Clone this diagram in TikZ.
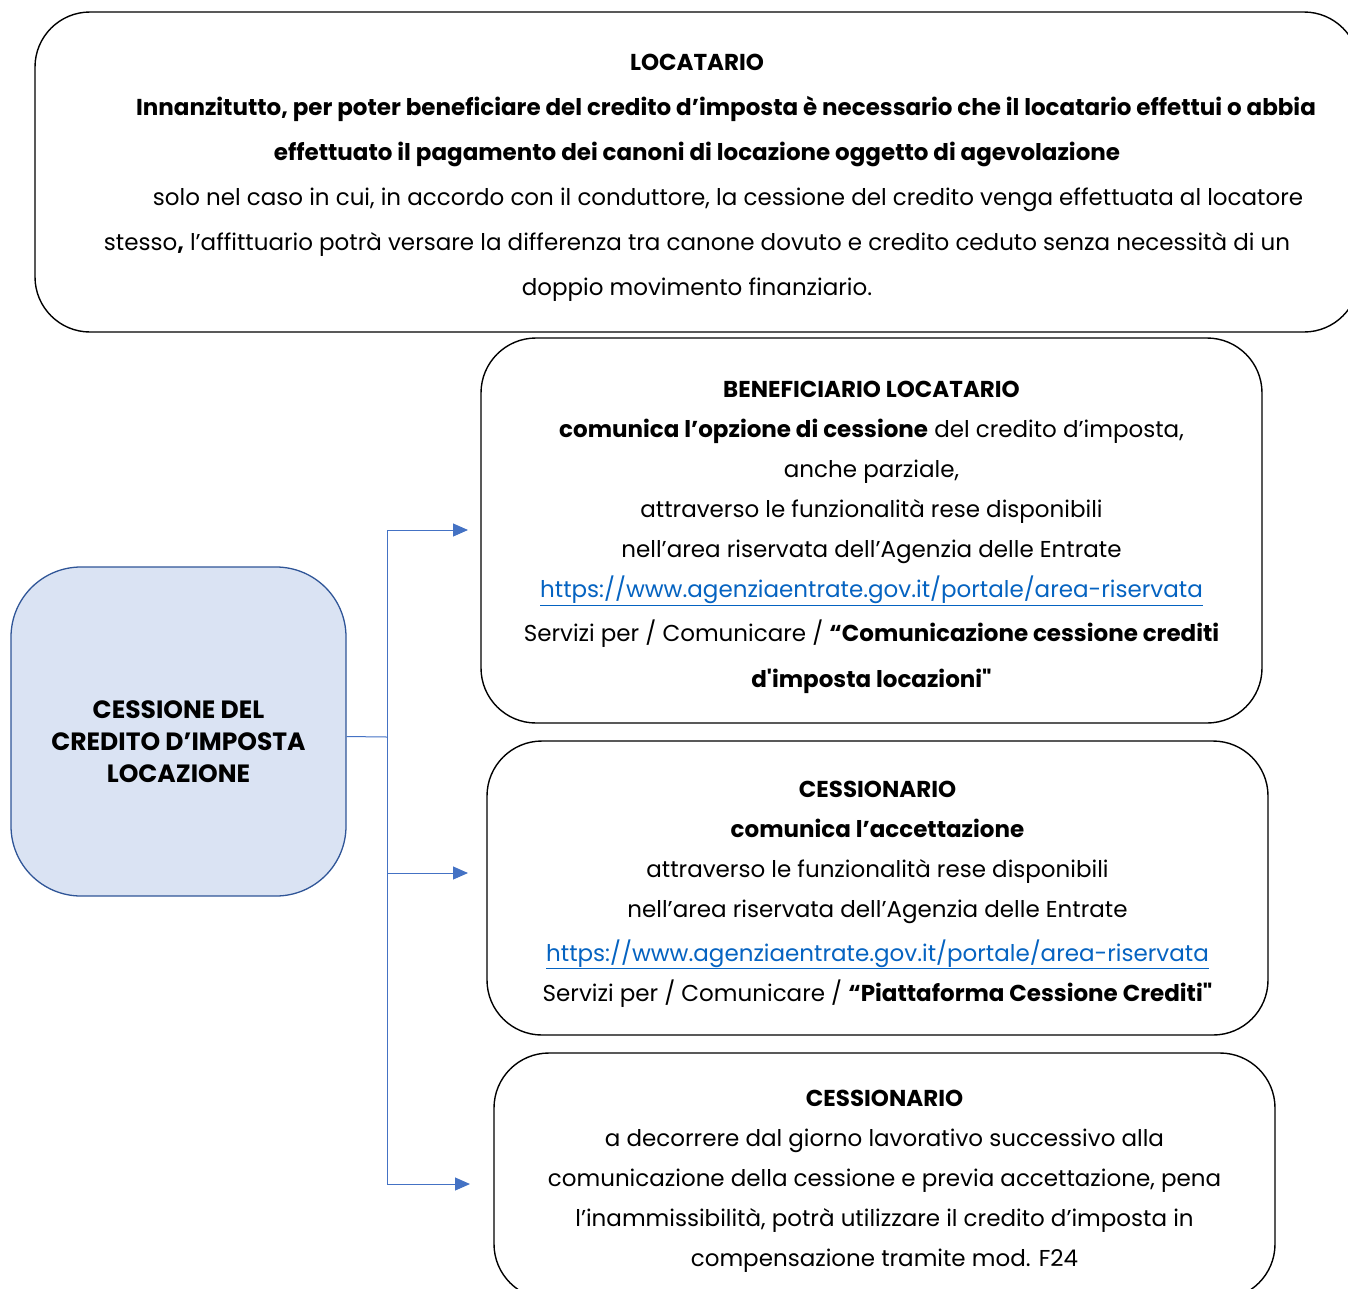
\documentclass[tikz,border=0pt]{standalone}
\usepackage{fontspec}
\setmainfont{Poppins}
\usetikzlibrary{arrows.meta}
\definecolor{linkblue}{HTML}{0563C1}
\definecolor{branchblue}{HTML}{4472C4}
\definecolor{mainfill}{HTML}{DAE3F3}
\definecolor{mainline}{HTML}{2F5597}
\newcommand{\weblink}[1]{\textcolor{linkblue}{\underline{#1}}}
\newcommand{\lift}[1]{\rule{0pt}{#1}}% pushes the text block down
\tikzset{
  infobox/.style={draw=black, line width=1.4pt, rounded corners=55pt, align=center, inner sep=0pt,
    font=\fontsize{23}{40}\selectfont},
  mainbox/.style={draw=mainline, fill=mainfill, line width=1.3pt, rounded corners=70pt, align=center,
    inner sep=0pt, font=\bfseries\fontsize{25}{32}\selectfont},
  branch/.style={draw=branchblue, line width=1pt},
  branchto/.style={branch, -{Triangle[length=15pt,width=13pt]}}
}
\begin{document}
\begin{tikzpicture}[x=1pt,y=-1pt]
\useasboundingbox (0,0) rectangle (1348,1288);
% locatario
\node[infobox, minimum width=1324pt, minimum height=320pt, font=\fontsize{23}{45}\selectfont] (locatario) at (697,172)
{\lift{28pt}\textbf{LOCATARIO}\\
\hspace*{58pt}\textbf{Innanzitutto, per poter beneficiare del credito d’imposta è necessario che il locatario effettui o abbia}\\
\textbf{effettuato il pagamento dei canoni di locazione oggetto di agevolazione}\\
\hspace*{62pt}solo nel caso in cui, in accordo con il conduttore, la cessione del credito venga effettuata al locatore\\
stesso\textbf{,} l’affittuario potrà versare la differenza tra canone dovuto e credito ceduto senza necessità di un\\
doppio movimento finanziario.};
% cessione
\node[mainbox, minimum width=335pt, minimum height=329pt] (cessione) at (178.5,731.5)
{\lift{38pt}CESSIONE DEL\\ CREDITO D’IMPOSTA\\ LOCAZIONE};
% beneficiario
\node[infobox, minimum width=781pt, minimum height=385pt] (beneficiario) at (871.5,530.5)
{\lift{30pt}\textbf{BENEFICIARIO LOCATARIO}\\
\textbf{comunica l’opzione di cessione} del credito d’imposta,\\
anche parziale,\\
attraverso le funzionalità rese disponibili\\
nell’area riservata dell’Agenzia delle Entrate\\
\weblink{https://www.agenziaentrate.gov.it/portale/area-riservata}\\[4pt]
Servizi per / Comunicare / \textbf{“Comunicazione cessione crediti}\\[6pt]
\textbf{d\textquotesingle imposta locazioni\textquotedbl}};
% cessionario
\node[infobox, minimum width=781pt, minimum height=294pt] (accettazione) at (877.5,888)
{\lift{28pt}\textbf{CESSIONARIO}\\
\textbf{comunica l’accettazione}\\
attraverso le funzionalità rese disponibili\\
nell’area riservata dell’Agenzia delle Entrate\\[4pt]
\weblink{https://www.agenziaentrate.gov.it/portale/area-riservata}\\
Servizi per / Comunicare / \textbf{“Piattaforma Cessione Crediti\textquotedbl}};
\node[infobox, minimum width=781pt, minimum height=246pt] (utilizzo) at (884.5,1176)
{\lift{26pt}\textbf{CESSIONARIO}\\
a decorrere dal giorno lavorativo successivo alla\\
comunicazione della cessione e previa accettazione, pena\\
l’inammissibilità, potrà utilizzare il credito d’imposta in\\
compensazione tramite mod. F24};
% frecce
\coordinate (fork) at (387,737);
\coordinate (to1) at (468,530);
\coordinate (to2) at (468,873);
\coordinate (to3) at (470,1184);
\draw[branch] ([yshift=-5pt]cessione.east) -- (fork);
\draw[branchto] (fork) |- (to1);
\draw[branchto] (fork) |- (to2);
\draw[branchto] (fork) |- (to3);
\end{tikzpicture}
\end{document}
